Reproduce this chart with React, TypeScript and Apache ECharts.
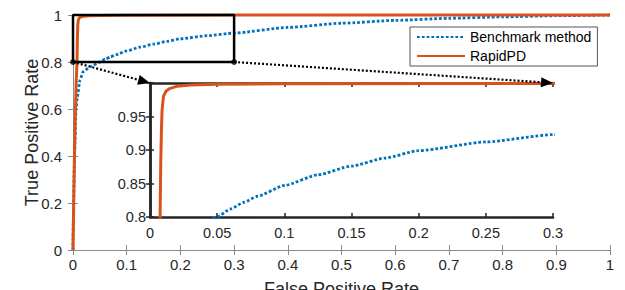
import React, { useEffect, useRef } from "react";
import * as echarts from "echarts";

// ---- data ----
const benchmarkFpr = [0, 0.001, 0.003, 0.0056, 0.008, 0.013, 0.019, 0.032, 0.05, 0.06, 0.07, 0.08, 0.1, 0.125, 0.15, 0.175, 0.2, 0.25, 0.3, 0.4, 0.5, 0.6, 0.7, 0.8, 0.9, 1];
const benchmarkTpr = [0, 0.2, 0.42, 0.596, 0.652, 0.723, 0.759, 0.78, 0.8, 0.812, 0.822, 0.831, 0.847, 0.863, 0.876, 0.888, 0.899, 0.912, 0.923, 0.947, 0.965, 0.977, 0.986, 0.992, 0.997, 1];
const rapidFpr = [0, 0.002, 0.004, 0.006, 0.0075, 0.008, 0.0085, 0.009, 0.01, 0.012, 0.015, 0.02, 0.03, 0.05, 0.1, 0.3, 0.6, 1];
const rapidTpr = [0, 0.3, 0.55, 0.72, 0.8, 0.88, 0.93, 0.96, 0.98, 0.988, 0.992, 0.995, 0.997, 0.998, 0.999, 0.9995, 1, 1];
const zoomBoxX = [0, 0.3];
const zoomBoxY = [0.8, 1];
const seriesNames = ["Benchmark method", "RapidPD"];
const axisTitles = { x: "False Positive Rate", y: "True Positive Rate" };

const BLUE = "#0072BD";
const ORANGE = "#D95319";
const TEXT = "#262626";
const FONT = "'Liberation Sans', Arial, Helvetica, sans-serif";

export default function App() {
  const ref = useRef<HTMLDivElement>(null);
  useEffect(() => {
    if (!ref.current) return;
    const chart = echarts.init(ref.current, undefined, { renderer: "svg" });
    const bench = benchmarkFpr.map((x, i) => [x, benchmarkTpr[i]]);
    const rapid = rapidFpr.map((x, i) => [x, rapidTpr[i]]);
    const box = [
      [zoomBoxX[0], zoomBoxY[0]],
      [zoomBoxX[1], zoomBoxY[0]],
      [zoomBoxX[1], zoomBoxY[1]],
      [zoomBoxX[0], zoomBoxY[1]],
      [zoomBoxX[0], zoomBoxY[0]],
    ];
    const mainAxisLine = { show: true, lineStyle: { color: "#8a8a8a", width: 1 } };
    const mainTick = { show: true, inside: true, length: 5, lineStyle: { color: "#8a8a8a" } };
    const insetAxisLine = { show: true, lineStyle: { color: TEXT, width: 2.5 } };
    const insetTick = { show: true, inside: true, length: 4, lineStyle: { color: TEXT, width: 1.5 } };
    const benchStyle = { color: BLUE, width: 2.8, type: [2.8, 2] as any, cap: "butt" as any };
    const rapidStyle = { color: ORANGE, width: 3 };

    chart.setOption({
      animation: false,
      textStyle: { fontFamily: FONT, color: TEXT },
      grid: [
        { left: 73, right: 15, top: 15, bottom: 40, show: false, containLabel: false, outerBoundsMode: "none" },
        {
          left: 150, top: 83, width: 403, height: 134, show: true, backgroundColor: "#fff", borderWidth: 0, z: 5,
          containLabel: false, outerBoundsMode: "none",
        },
      ],
      legend: {
        data: seriesNames,
        orient: "vertical",
        left: 410,
        top: 27,
        padding: [3, 6, 3, 6],
        itemWidth: 48,
        itemHeight: 14,
        itemGap: 5,
        backgroundColor: "#fff",
        borderColor: "#555",
        borderWidth: 1,
        borderRadius: 0,
        itemStyle: { color: "rgba(0,0,0,0)", borderWidth: 0, opacity: 0 },
        textStyle: { fontSize: 14, color: "#000", fontFamily: FONT },
        z: 20,
      },
      xAxis: [
        {
          type: "value", gridIndex: 0, min: 0, max: 1, interval: 0.1, position: "bottom",
          axisLine: mainAxisLine, axisTick: mainTick, splitLine: { show: false },
          axisLabel: { fontSize: 15, color: TEXT, margin: 7, fontFamily: FONT },
          name: axisTitles.x, nameLocation: "middle", nameGap: 30, nameMoveOverlap: false,
          nameTextStyle: { fontSize: 18, color: TEXT, fontFamily: FONT },
        },
        {
          type: "value", gridIndex: 0, min: 0, max: 1, interval: 0.1, position: "top",
          axisLine: mainAxisLine, axisTick: mainTick, splitLine: { show: false }, axisLabel: { show: false },
        },
        {
          type: "value", gridIndex: 1, min: 0, max: 0.3, interval: 0.05, position: "bottom",
          axisLine: insetAxisLine, axisTick: insetTick, splitLine: { show: false },
          axisLabel: { fontSize: 14.5, color: TEXT, margin: 8, fontFamily: FONT },
          z: 6,
        },
        {
          type: "value", gridIndex: 1, min: 0, max: 0.3, interval: 0.05, position: "top",
          axisLine: insetAxisLine, axisTick: insetTick, splitLine: { show: false }, axisLabel: { show: false },
          z: 6,
        },
      ],
      yAxis: [
        {
          type: "value", gridIndex: 0, min: 0, max: 1, interval: 0.2, position: "left",
          axisLine: mainAxisLine, axisTick: mainTick, splitLine: { show: false },
          axisLabel: { fontSize: 15, color: TEXT, margin: 11, fontFamily: FONT },
          name: axisTitles.y, nameLocation: "middle", nameGap: 32, nameMoveOverlap: false,
          nameTextStyle: { fontSize: 18, color: TEXT, fontFamily: FONT },
        },
        {
          type: "value", gridIndex: 0, min: 0, max: 1, interval: 0.2, position: "right",
          axisLine: mainAxisLine, axisTick: mainTick, splitLine: { show: false }, axisLabel: { show: false },
        },
        {
          type: "value", gridIndex: 1, min: 0.8, max: 1, interval: 0.05, position: "left",
          axisLine: insetAxisLine, axisTick: insetTick, splitLine: { show: false },
          axisLabel: {
            fontSize: 14.5, color: TEXT, margin: 4, fontFamily: FONT,
            formatter: (v: number) => (Math.abs(v - 1) < 1e-9 ? "" : String(+v.toFixed(2))),
          },
          z: 6,
        },
        {
          type: "value", gridIndex: 1, min: 0.8, max: 1, interval: 0.05, position: "right",
          axisLine: insetAxisLine, axisTick: insetTick, splitLine: { show: false }, axisLabel: { show: false },
          z: 6,
        },
      ],
      series: [
        {
          name: seriesNames[0], type: "line", xAxisIndex: 0, yAxisIndex: 0, data: bench,
          showSymbol: false, symbol: "none", smooth: 0.2, smoothMonotone: "x", clip: false,
          lineStyle: benchStyle, itemStyle: { color: BLUE }, z: 2,
        },
        {
          name: seriesNames[1], type: "line", xAxisIndex: 0, yAxisIndex: 0, data: rapid,
          showSymbol: false, symbol: "none", clip: false, lineStyle: rapidStyle, itemStyle: { color: ORANGE }, z: 3,
        },
        {
          name: "zoomBox", type: "line", xAxisIndex: 0, yAxisIndex: 0, data: box,
          showSymbol: false, symbol: "none", clip: false,
          lineStyle: { color: "#000", width: 2.5 }, z: 4, silent: true,
        },
        {
          name: "zoomCorners", type: "scatter", xAxisIndex: 0, yAxisIndex: 0,
          data: [box[0], box[1]], symbolSize: 6, itemStyle: { color: "#000" }, clip: false, z: 4,
        },
        {
          name: seriesNames[0], type: "line", xAxisIndex: 2, yAxisIndex: 2, data: bench,
          showSymbol: false, symbol: "none", smooth: 0.2, smoothMonotone: "x", clip: true,
          lineStyle: benchStyle, itemStyle: { color: BLUE }, z: 7,
        },
        {
          name: seriesNames[1], type: "line", xAxisIndex: 2, yAxisIndex: 2, data: rapid,
          showSymbol: false, symbol: "none", clip: true, lineStyle: rapidStyle, itemStyle: { color: ORANGE }, z: 7,
        },
      ],
    });

    // connectors from the zoom box to the inset (positions from the library's scales)
    const from1 = chart.convertToPixel({ xAxisIndex: 0, yAxisIndex: 0 }, box[0]) as number[];
    const from2 = chart.convertToPixel({ xAxisIndex: 0, yAxisIndex: 0 }, box[1]) as number[];
    const to1 = chart.convertToPixel({ xAxisIndex: 2, yAxisIndex: 2 }, [0, 1]) as number[];
    const to2 = chart.convertToPixel({ xAxisIndex: 2, yAxisIndex: 2 }, [0.3, 1]) as number[];
    const arrow = (a: number[], b: number[]) => {
      const dx = b[0] - a[0];
      const dy = b[1] - a[1];
      const len = Math.hypot(dx, dy);
      const ux = dx / len;
      const uy = dy / len;
      const L = 12;
      const W = 5;
      const bx = b[0] - ux * L;
      const by = b[1] - uy * L;
      return [
        {
          type: "line",
          shape: { x1: a[0], y1: a[1], x2: bx, y2: by },
          style: { stroke: "#000", lineWidth: 2.2, lineDash: [2, 2] },
          z: 30,
        },
        {
          type: "polygon",
          shape: { points: [[b[0], b[1]], [bx - uy * W, by + ux * W], [bx + uy * W, by - ux * W]] },
          style: { fill: "#000" },
          z: 30,
        },
      ];
    };
    chart.setOption({ graphic: [...arrow(from1, to1), ...arrow(from2, to2)] });

    return () => chart.dispose();
  }, []);
  return (
    <div
      ref={ref}
      style={{ position: "fixed", left: 0, top: 0, width: 625, height: 290, background: "#fff" }}
    />
  );
}
